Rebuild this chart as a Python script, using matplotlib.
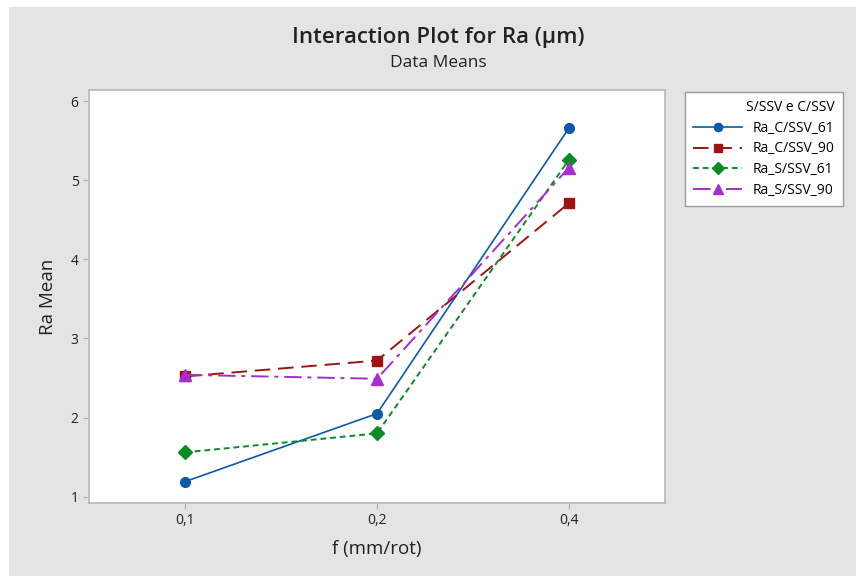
import numpy as np
import matplotlib.pyplot as plt
from matplotlib.patches import Rectangle

plt.rcParams['font.family'] = ['Open Sans', 'DejaVu Sans']

f_labels = ['0,1', '0,2', '0,4']
ra_c_61 = [1.19, 2.05, 5.66]
ra_c_90 = [2.52, 2.72, 4.71]
ra_s_61 = [1.56, 1.80, 5.26]
ra_s_90 = [2.54, 2.49, 5.16]

fig = plt.figure(figsize=(8.56, 5.76), dpi=100, facecolor='white')
fig.patches.append(Rectangle((9/856, 0), 1, 1 - 7/576, transform=fig.transFigure,
                             facecolor='#e4e4e4', edgecolor='none', zorder=-1))

ax = fig.add_axes([89/856, 1 - 503/576, 576/856, 413/576])
ax.set_facecolor('white')
x = np.arange(len(f_labels))

ax.plot(x, ra_c_61, color='#0a5aa8', linestyle='-', linewidth=1.2,
        marker='o', markersize=7, label='Ra_C/SSV_61')
ax.plot(x, ra_c_90, color='#9c1515', linestyle=(0, (8, 4)), linewidth=1.4,
        marker='s', markersize=7, label='Ra_C/SSV_90')
ax.plot(x, ra_s_61, color='#0c8a28', linestyle=(0, (3, 2)), linewidth=1.4,
        marker='D', markersize=7, label='Ra_S/SSV_61')
ax.plot(x, ra_s_90, color='#a52ecf', linestyle=(0, (9, 3, 2, 3)), linewidth=1.4,
        marker='^', markersize=8, label='Ra_S/SSV_90')

ax.set_xlim(-0.5, 2.5)
ax.set_ylim(0.92, 6.14)
ax.set_xticks(x)
ax.set_xticklabels(f_labels)
ax.set_yticks([1, 2, 3, 4, 5, 6])
ax.tick_params(colors='#b0b0b0', labelcolor='#222222', labelsize=10, length=4)
for s in ax.spines.values():
    s.set_color('#b8b8b8')
    s.set_linewidth(1.2)

ax.set_xlabel('f (mm/rot)', fontsize=13.5, color='#222222', labelpad=8)
ax.set_ylabel('Ra Mean', fontsize=13.5, color='#222222', labelpad=10)

fig.text(438/856, 1 - 38/576, 'Interaction Plot for Ra (\u00b5m)', ha='center', va='center',
         fontsize=16, fontweight='semibold', color='#222222')
fig.text(438/856, 1 - 63/576, 'Data Means', ha='center', va='center',
         fontsize=12.5, color='#222222')

leg = ax.legend(title='S/SSV e C/SSV', loc='upper left', bbox_to_anchor=(685/856, 1 - 92/576),
                bbox_transform=fig.transFigure, borderaxespad=0, fontsize=10, title_fontsize=10,
                frameon=True, fancybox=False, edgecolor='#9a9a9a', facecolor='white',
                framealpha=1, handlelength=3.5, borderpad=0.6, labelspacing=0.4,
                alignment='right', markerscale=0.85)
leg.get_frame().set_linewidth(1.0)

fig.savefig('out.png', dpi=100)
